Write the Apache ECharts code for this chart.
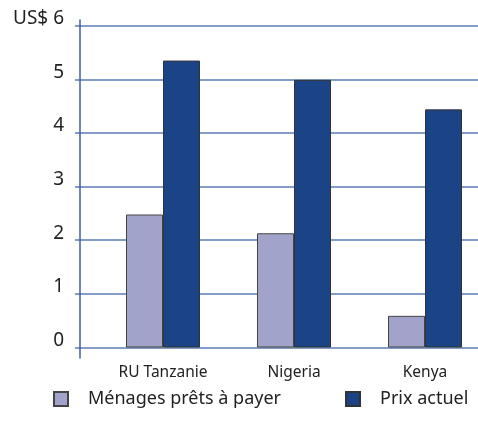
<!DOCTYPE html>
<html>
<head>
<meta charset="utf-8">
<script src="https://cdn.jsdelivr.net/npm/echarts@6/dist/echarts.min.js"></script>
<style>
  html, body { margin: 0; padding: 0; background: #fff; }
  #main { width: 478px; height: 421px; }
</style>
</head>
<body>
<div id="main"></div>
<script>
// data
var categories = ['RU Tanzanie', 'Nigeria', 'Kenya']
var readyToPay = [2.48, 2.13, 0.59]
var currentPrice = [5.35, 4.99, 4.44]
var yTickLabels = ['0', '1', '2', '3', '4', '5', 'US$ 6']
var seriesNames = ['Ménages prêts à payer', 'Prix actuel']

var font = 'Noto Sans'
var gridColor = '#5a7cb4'

var chart = echarts.init(document.getElementById('main'))

var option = {
  animation: false,
  textStyle: { fontFamily: font },
  // 0: vertical axis line, 1: grid lines + y labels, 2: bars
  grid: [
    { left: 80, right: 0, top: 20, bottom: 63 },
    { left: 75, right: 0, top: 25.7, bottom: 73.5 },
    { left: 97.5, right: -12.5, top: 25.7, bottom: 73.5, outerBoundsMode: 'none' }
  ],
  xAxis: [
    { gridIndex: 0, type: 'value', show: false },
    { gridIndex: 1, type: 'value', show: false },
    {
      gridIndex: 2,
      type: 'category',
      data: categories,
      axisLine: { show: false },
      axisTick: { show: false },
      axisLabel: { color: '#222', fontSize: 15.5, margin: 17 }
    }
  ],
  yAxis: [
    {
      gridIndex: 0,
      type: 'value',
      min: 0,
      max: 1,
      axisLine: { show: true, lineStyle: { color: '#3d5f9e', width: 1.5 } },
      axisTick: { show: false },
      axisLabel: { show: false },
      splitLine: { show: false }
    },
    {
      gridIndex: 1,
      type: 'value',
      min: 0,
      max: 6,
      interval: 1,
      axisLine: { show: false },
      axisTick: { show: false },
      axisLabel: {
        color: '#222',
        fontSize: 19,
        margin: 11,
        verticalAlign: 'bottom',
        lineHeight: 14,
        formatter: function (v) { return yTickLabels[v] }
      },
      splitLine: { show: true, lineStyle: { color: gridColor, width: 1.5 } }
    },
    { gridIndex: 2, type: 'value', min: 0, max: 6, show: false }
  ],
  legend: {
    left: 53,
    top: 390,
    padding: 0,
    itemWidth: 14,
    itemHeight: 14,
    itemGap: 64,
    icon: 'rect',
    data: seriesNames,
    textStyle: { color: '#222', fontSize: 18, padding: [0, 0, 0, 15] }
  },
  series: [
    {
      name: seriesNames[0],
      type: 'bar',
      xAxisIndex: 2,
      yAxisIndex: 2,
      barWidth: 37,
      barGap: 0,
      data: readyToPay,
      itemStyle: { color: '#a1a3ca', borderColor: '#444', borderWidth: 1 }
    },
    {
      name: seriesNames[1],
      type: 'bar',
      xAxisIndex: 2,
      yAxisIndex: 2,
      barWidth: 37,
      barGap: 0,
      data: currentPrice,
      itemStyle: { color: '#1b4486', borderColor: '#333', borderWidth: 1 }
    }
  ]
}

chart.setOption(option)
</script>
</body>
</html>
